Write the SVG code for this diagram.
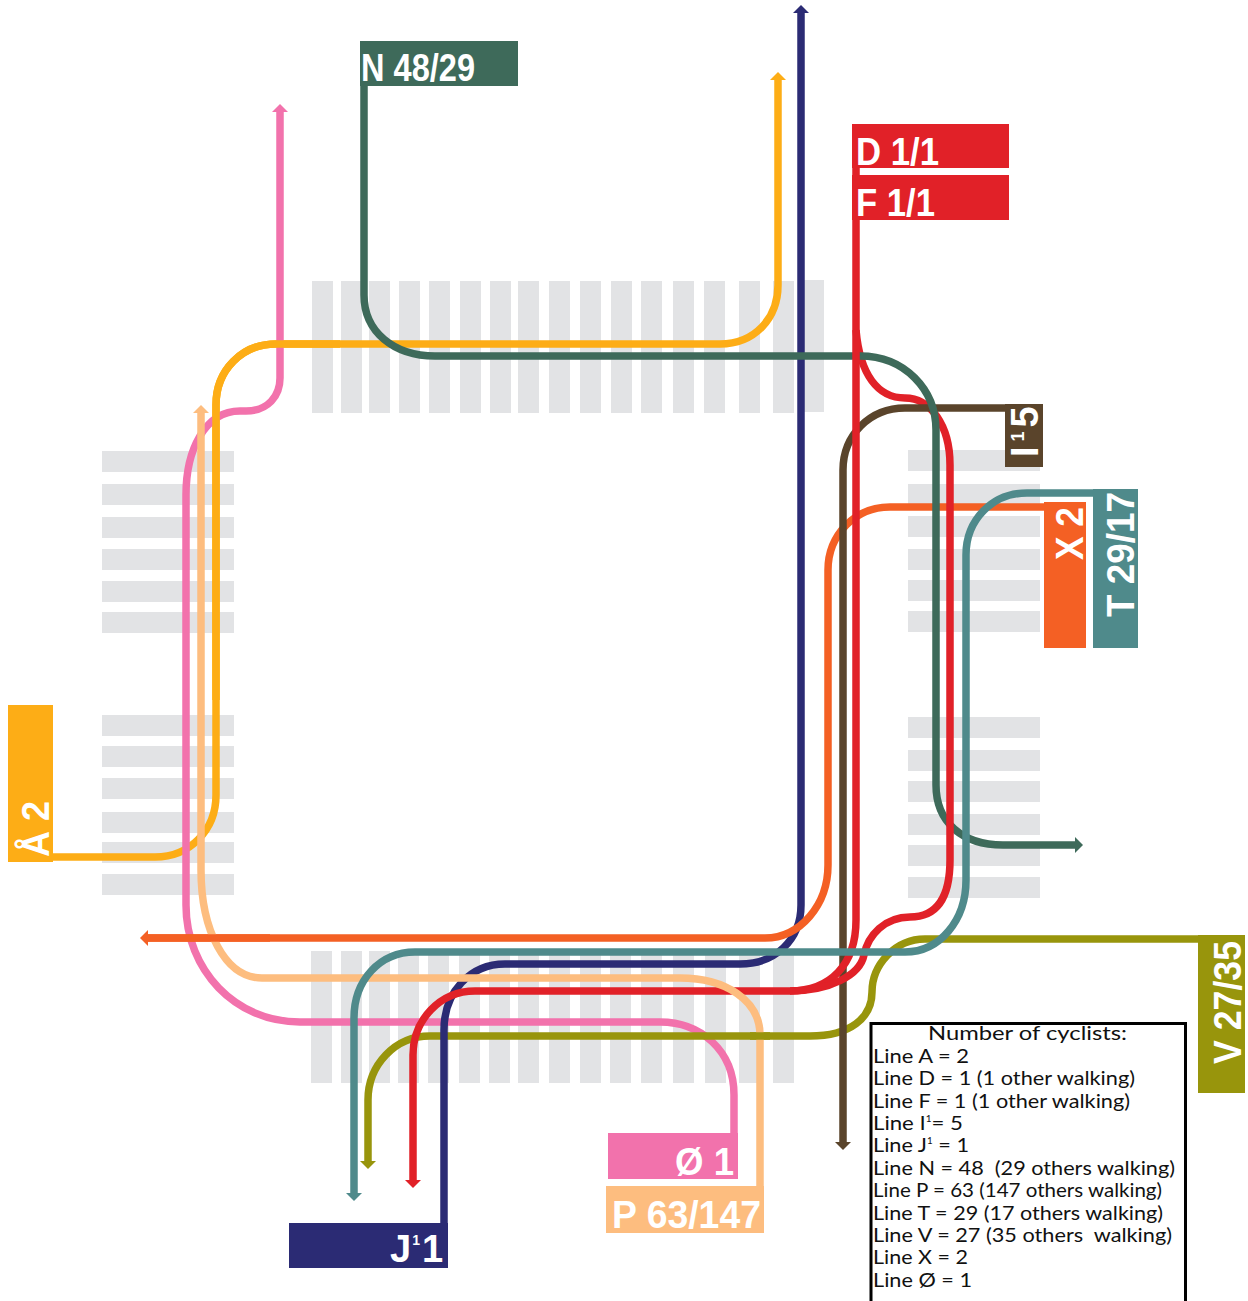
<svg xmlns="http://www.w3.org/2000/svg" width="1248" height="1301" viewBox="0 0 1248 1301">
<style>
.g{fill:#e2e3e5}
.l{fill:none;stroke-width:7.5}
.y{stroke:#fdad16}.p{stroke:#f272ac}.c{stroke:#fdbd7f}.t{stroke:#4f8a8b}.o{stroke:#98950c}.n{stroke:#2b2b74}.r{stroke:#e12128}.e{stroke:#3e6a5a}.b{stroke:#5a442b}.x{stroke:#f46024}
.lb{font-family:"Liberation Sans",Arial,sans-serif;font-weight:700;font-size:38px;fill:#fff}
.tb{font-family:Lato,"Liberation Sans",sans-serif;font-size:20px;fill:#111;white-space:pre}
</style>
<defs>
<marker id="my" markerUnits="userSpaceOnUse" markerWidth="9" markerHeight="16" refX="1" refY="8" orient="auto"><path d="M0 0L8 8L0 16z" fill="#fdad16"/></marker>
<marker id="mp" markerUnits="userSpaceOnUse" markerWidth="9" markerHeight="16" refX="1" refY="8" orient="auto"><path d="M0 0L8 8L0 16z" fill="#f272ac"/></marker>
<marker id="mc" markerUnits="userSpaceOnUse" markerWidth="9" markerHeight="16" refX="1" refY="8" orient="auto"><path d="M0 0L8 8L0 16z" fill="#fdbd7f"/></marker>
<marker id="mt" markerUnits="userSpaceOnUse" markerWidth="9" markerHeight="16" refX="1" refY="8" orient="auto"><path d="M0 0L8 8L0 16z" fill="#4f8a8b"/></marker>
<marker id="mo" markerUnits="userSpaceOnUse" markerWidth="9" markerHeight="16" refX="1" refY="8" orient="auto"><path d="M0 0L8 8L0 16z" fill="#98950c"/></marker>
<marker id="mn" markerUnits="userSpaceOnUse" markerWidth="9" markerHeight="16" refX="1" refY="8" orient="auto"><path d="M0 0L8 8L0 16z" fill="#2b2b74"/></marker>
<marker id="mr" markerUnits="userSpaceOnUse" markerWidth="9" markerHeight="16" refX="1" refY="8" orient="auto"><path d="M0 0L8 8L0 16z" fill="#e12128"/></marker>
<marker id="me" markerUnits="userSpaceOnUse" markerWidth="9" markerHeight="16" refX="1" refY="8" orient="auto"><path d="M0 0L8 8L0 16z" fill="#3e6a5a"/></marker>
<marker id="mb" markerUnits="userSpaceOnUse" markerWidth="9" markerHeight="16" refX="1" refY="8" orient="auto"><path d="M0 0L8 8L0 16z" fill="#5a442b"/></marker>
<marker id="mx" markerUnits="userSpaceOnUse" markerWidth="9" markerHeight="16" refX="1" refY="8" orient="auto"><path d="M0 0L8 8L0 16z" fill="#f46024"/></marker>
</defs>
<g id="crossings" class="g">
<rect x="312" y="281" width="21" height="132"/><rect x="341" y="281" width="21" height="132"/><rect x="369" y="281" width="21" height="132"/><rect x="399" y="281" width="21" height="132"/><rect x="429" y="281" width="21" height="132"/><rect x="460" y="281" width="21" height="132"/><rect x="490" y="281" width="21" height="132"/><rect x="518" y="281" width="21" height="132"/><rect x="549" y="281" width="21" height="132"/><rect x="580" y="281" width="21" height="132"/><rect x="611" y="281" width="21" height="132"/><rect x="641" y="281" width="21" height="132"/><rect x="673" y="281" width="21" height="132"/><rect x="704" y="281" width="21" height="132"/><rect x="739" y="281" width="21" height="132"/><rect x="773" y="281" width="21" height="132"/><rect x="804" y="280" width="20" height="132"/>
<rect x="311" y="951" width="21" height="132"/><rect x="341" y="951" width="21" height="132"/><rect x="369" y="951" width="21" height="132"/><rect x="398" y="951" width="21" height="132"/><rect x="428" y="951" width="21" height="132"/><rect x="459" y="951" width="21" height="132"/><rect x="489" y="951" width="21" height="132"/><rect x="518" y="951" width="21" height="132"/><rect x="549" y="951" width="21" height="132"/><rect x="580" y="951" width="21" height="132"/><rect x="610" y="951" width="21" height="132"/><rect x="641" y="951" width="21" height="132"/><rect x="673" y="951" width="21" height="132"/><rect x="705" y="951" width="21" height="132"/><rect x="739" y="951" width="21" height="132"/><rect x="773" y="951" width="21" height="132"/>
<rect x="102" y="451" width="132" height="21"/><rect x="102" y="484" width="132" height="21"/><rect x="102" y="517" width="132" height="21"/><rect x="102" y="549" width="132" height="21"/><rect x="102" y="581" width="132" height="21"/><rect x="102" y="612" width="132" height="21"/>
<rect x="102" y="715" width="132" height="21"/><rect x="102" y="746" width="132" height="21"/><rect x="102" y="778" width="132" height="21"/><rect x="102" y="812" width="132" height="21"/><rect x="102" y="842" width="132" height="21"/><rect x="102" y="874" width="132" height="21"/>
<rect x="908" y="450" width="132" height="21"/><rect x="908" y="484" width="132" height="21"/><rect x="908" y="516" width="132" height="21"/><rect x="908" y="549" width="132" height="21"/><rect x="908" y="580" width="132" height="21"/><rect x="908" y="611" width="132" height="21"/>
<rect x="908" y="717" width="132" height="21"/><rect x="908" y="750" width="132" height="21"/><rect x="908" y="781" width="132" height="21"/><rect x="908" y="814" width="132" height="21"/><rect x="908" y="845" width="132" height="21"/><rect x="908" y="877" width="132" height="21"/>
</g>
<g id="connectors">
<path class="l y" marker-end="url(#my)" d="M50 857H155C190 857 216 830 216 795V405C216 370 242 344 276 344H720C755 344 778 318 778 285V79"/>
<path class="l p" marker-end="url(#mp)" d="M734 1136V1095C734 1050 700 1022 660 1022H300C235 1022 186 970 186 905V495C186 450 205 411 240 411H246C268 411 280 396 280 378V111"/>
<path class="l o" marker-end="url(#mo)" d="M1200 939H925C895 939 872 965 872 992C872 1018 850 1036 810 1036H430C395 1036 368 1065 368 1100V1162"/>
<path class="l n" marker-end="url(#mn)" d="M444 1226V1030C444 992 470 964 505 964H740C775 964 801 940 801 905V12"/>
<path class="l r" d="M856 330C860 375 878 398 905 398C930 398 950 425 950 465"/>
<path class="l x" marker-end="url(#mx)" d="M1046 507H890C855 507 828 535 828 570V865C828 905 800 938 765 938H147"/>
<path class="l b" marker-end="url(#mb)" d="M1008 408H905C870 408 843 435 843 470V1143"/>
<path class="l e" marker-end="url(#me)" d="M364 84V295C364 332 394 356 435 356H860C905 356 936 390 936 430V785C936 822 962 845 1003 845H1076"/>
<path class="l r" marker-end="url(#mr)" d="M856 218V920C856 965 830 991 790 991H475C440 991 413 1020 413 1055V1181"/>
<path class="l r" d="M950 465V860C950 900 935 917 910 917C885 917 868 935 864 955C860 975 830 991 790 991"/>
<path class="l r" d="M856 168V180"/>
<path class="l c" marker-end="url(#mc)" d="M760 1188V1035C760 1000 725 978 680 978H262C225 978 201 930 201 870V412"/>
<path class="l o" d="M750 1036H770"/>
<path class="l x" d="M147 938H270"/>
<path class="l t" marker-end="url(#mt)" d="M1095 493H1027C992 493 966 520 966 555V880C966 920 940 952 905 952H415C380 952 354 980 354 1018V1194"/>
<path class="l y" d="M216 700V405C216 370 242 344 276 344H340"/>
</g>
<g id="label-a"><rect x="8" y="705" width="45" height="157" fill="#fdad16"/><text class="lb" transform="translate(49 857) rotate(-90)" textLength="56" lengthAdjust="spacingAndGlyphs" font-size="36">Å 2</text></g>
<g id="label-n"><rect x="360" y="41" width="158" height="45" fill="#3e6a5a"/><text class="lb" x="361" y="81" textLength="114" lengthAdjust="spacingAndGlyphs">N 48/29</text></g>
<g id="label-d"><rect x="852" y="124" width="157" height="44" fill="#e12128"/><text class="lb" x="856" y="165" textLength="83" lengthAdjust="spacingAndGlyphs">D 1/1</text></g>
<g id="label-f"><rect x="852" y="175" width="157" height="45" fill="#e12128"/><text class="lb" x="856" y="216" textLength="79" lengthAdjust="spacingAndGlyphs">F 1/1</text></g>
<g id="label-i"><rect x="1005" y="404" width="38" height="63" fill="#5a442b"/><text class="lb" transform="translate(1038 457) rotate(-90)"><tspan>I</tspan><tspan font-size="18" dy="-14" dx="5">1</tspan><tspan dy="14" dx="4">5</tspan></text></g>
<g id="label-x"><rect x="1044" y="502" width="42" height="146" fill="#f46024"/><text class="lb" transform="translate(1083 560) rotate(-90)" textLength="53" lengthAdjust="spacingAndGlyphs">X 2</text></g>
<g id="label-t"><rect x="1093" y="489" width="45" height="159" fill="#4f8a8b"/><text class="lb" transform="translate(1134 617) rotate(-90)" textLength="125" lengthAdjust="spacingAndGlyphs">T 29/17</text></g>
<g id="label-v"><rect x="1198" y="935" width="47" height="158" fill="#98950c"/><text class="lb" transform="translate(1241 1064) rotate(-90)" textLength="123" lengthAdjust="spacingAndGlyphs">V 27/35</text></g>
<g id="label-oe"><rect x="608" y="1133" width="130" height="46" fill="#f272ac"/><text class="lb" x="675" y="1175" textLength="59" lengthAdjust="spacingAndGlyphs">Ø 1</text></g>
<g id="label-p"><rect x="606" y="1186" width="158" height="47" fill="#fdbd7f"/><text class="lb" x="612" y="1228" textLength="149" lengthAdjust="spacingAndGlyphs">P 63/147</text></g>
<g id="label-j"><rect x="289" y="1223" width="159" height="45" fill="#2b2b74"/><text class="lb" x="390" y="1262" font-size="36"><tspan>J</tspan><tspan font-size="14" dy="-17" dx="1">1</tspan><tspan dy="17" dx="2">1</tspan></text></g>
<g id="legend">
<path d="M871 1301V1023.500H1185.500V1301" fill="none" stroke="#000" stroke-width="3"/>
<text class="tb" x="928" y="1040" textLength="199" lengthAdjust="spacingAndGlyphs">Number of cyclists:</text>
<text class="tb" x="873" y="1063" textLength="96" lengthAdjust="spacingAndGlyphs">Line A = 2</text>
<text class="tb" x="873" y="1085" textLength="262" lengthAdjust="spacingAndGlyphs">Line D = 1 (1 other walking)</text>
<text class="tb" x="873" y="1108" textLength="257" lengthAdjust="spacingAndGlyphs">Line F = 1 (1 other walking)</text>
<text class="tb" x="873" y="1130" textLength="90" lengthAdjust="spacingAndGlyphs">Line I<tspan font-size="9" dy="-8">1</tspan><tspan dy="8">= 5</tspan></text>
<text class="tb" x="873" y="1152" textLength="96" lengthAdjust="spacingAndGlyphs">Line J<tspan font-size="9" dy="-8">1</tspan><tspan dy="8"> = 1</tspan></text>
<text class="tb" x="873" y="1175" textLength="302" lengthAdjust="spacingAndGlyphs">Line N = 48  (29 others walking)</text>
<text class="tb" x="873" y="1197" textLength="289" lengthAdjust="spacingAndGlyphs">Line P = 63 (147 others walking)</text>
<text class="tb" x="873" y="1220" textLength="290" lengthAdjust="spacingAndGlyphs">Line T = 29 (17 others walking)</text>
<text class="tb" x="873" y="1242" textLength="299" lengthAdjust="spacingAndGlyphs">Line V = 27 (35 others  walking)</text>
<text class="tb" x="873" y="1264" textLength="95" lengthAdjust="spacingAndGlyphs">Line X = 2</text>
<text class="tb" x="873" y="1287" textLength="99" lengthAdjust="spacingAndGlyphs">Line Ø = 1</text>
</g>
</svg>
